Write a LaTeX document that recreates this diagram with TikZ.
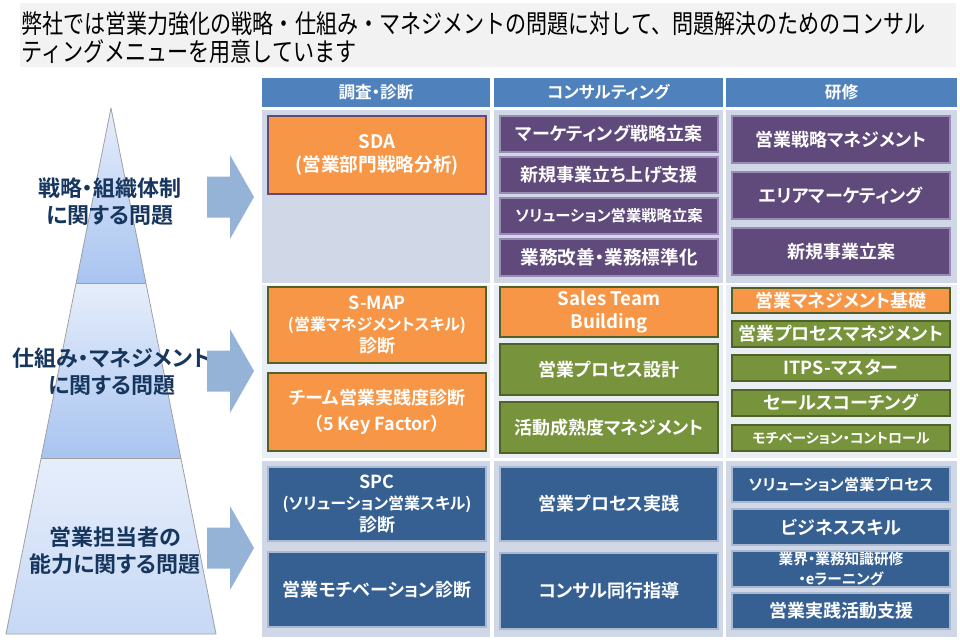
\documentclass[tikz,border=0pt]{standalone}
\usepackage{fontspec}
\setmainfont{Noto Sans CJK JP}[BoldFont={Noto Sans CJK JP Bold}, RawFeature=+palt]
\newfontfamily\titlefont{Noto Sans CJK JP}[FakeStretch=0.81]
\definecolor{cHdr}{HTML}{4F81BD}
\definecolor{cBgA}{HTML}{D0D8E8}
\definecolor{cBgB}{HTML}{E9EDF4}
\definecolor{cOrg}{HTML}{F79646}
\definecolor{cPur}{HTML}{604A7B}
\definecolor{cPurB}{HTML}{9A8BB5}
\definecolor{cGrn}{HTML}{77933C}
\definecolor{cGrnB}{HTML}{4F6228}
\definecolor{cDbl}{HTML}{366092}
\definecolor{cDblB}{HTML}{A9B9D2}
\definecolor{cPyrTxt}{HTML}{17365D}
\definecolor{cArr}{HTML}{95B3D7}
\definecolor{cTitleBg}{HTML}{F2F2F2}
\definecolor{cPyrTop}{HTML}{E6EEFB}
\definecolor{cPyrBot}{HTML}{A8C4F0}
\definecolor{cPyrBot3}{HTML}{C6D8F5}
\definecolor{cPyrLine}{HTML}{A0A0A0}
\tikzset{
  fs/.code={\pgfmathsetmacro\myfsb{#1*1.2}%
    \edef\myfstmp{\noexpand\tikzset{font=\noexpand\bfseries\noexpand\fontsize{#1}{\myfsb}\noexpand\selectfont}}\myfstmp},
  bx/.style={inner sep=0pt, text=white, align=center, line width=0.8pt, fs=13.5},
  orgbox/.style={bx, fill=cOrg, draw=cGrnB},
  purbox/.style={bx, fill=cPur, draw=cPurB},
  grnbox/.style={bx, fill=cGrn, draw=cGrnB},
  dblbox/.style={bx, fill=cDbl, draw=cDblB},
  hdrbox/.style={inner sep=0pt, fill=cHdr, text=white, fs=12.5},
  bgA/.style={inner sep=0pt, fill=cBgA},
  bgB/.style={inner sep=0pt, fill=cBgB},
  pyrtxt/.style={text=cPyrTxt, align=center, inner sep=0pt, font=\bfseries\fontsize{16.5}{20.5}\selectfont},
  blockarrow/.style={fill=cArr},
}
\newcommand{\smallline}[2]{{\fontsize{#1}{16}\selectfont #2}}
% box: style, name, x1, y1, x2, y2, text (pixel coordinates)
\newcommand{\bxn}[7]{%
  \pgfmathsetmacro\bcx{(#3+#5)/2}%
  \pgfmathsetmacro\bcy{(#4+#6)/2}%
  \pgfmathsetmacro\bw{(#5-#3)*0.75}%
  \pgfmathsetmacro\bh{(#6-#4)*0.75}%
  \node[#1, minimum width=\bw pt, minimum height=\bh pt] (#2) at (\bcx,\bcy) {#7};}
\begin{document}
\begin{tikzpicture}[x=0.75pt, y=-0.75pt]
\useasboundingbox (0,0) rectangle (960,642);
\fill[white] (0,0) rectangle (960,642);
% title
\fill[cTitleBg] (20,3) rectangle (956,67);
\node[anchor=west, inner sep=0pt, align=left, font=\titlefont\fontsize{19.5}{21}\selectfont] (title) at (21,38)
  {弊社では営業力強化の戦略・仕組み・マネジメントの問題に対して、問題解決のためのコンサル\\ティングメニューを用意しています};
% pyramid
\coordinate (apex) at (111,108);
\coordinate (bl) at (6,634);
\coordinate (br) at (216,634);
\coordinate (l1) at (76.1,283);
\coordinate (r1) at (145.9,283);
\coordinate (l2) at (41.1,458);
\coordinate (r2) at (180.9,458);
\shade[top color=cPyrTop, bottom color=cPyrBot] (apex) -- (r1) -- (l1) -- cycle;
\shade[top color=cPyrTop, bottom color=cPyrBot] (l1) -- (r1) -- (r2) -- (l2) -- cycle;
\shade[top color=cPyrTop, bottom color=cPyrBot3] (l2) -- (r2) -- (br) -- (bl) -- cycle;
\draw[cPyrLine, line width=0.6pt, line join=round] (apex) -- (br) -- (bl) -- cycle;
\draw[cPyrLine, line width=0.6pt] (l1) -- (r1) (l2) -- (r2);
\node[pyrtxt] (p1) at (110,202) {戦略・組織体制\\に関する問題};
\node[pyrtxt] (p2) at (112,372) {仕組み・マネジメント\\に関する問題};
\node[pyrtxt] (p3) at (115,551) {営業担当者の\\能力に関する問題};
% arrows
\foreach \yc in {197, 371, 548}{
  \fill[blockarrow] (207,\yc-20.5) -- (230,\yc-20.5) -- (230,\yc-42) -- (254,\yc) -- (230,\yc+42) -- (230,\yc+20.5) -- (207,\yc+20.5) -- cycle;
}
% headers
\bxn{hdrbox}{h1}{262}{78}{490}{107}{調査・診断}
\bxn{hdrbox}{h2}{494}{78}{723}{107}{コンサルティング}
\bxn{hdrbox}{h3}{726}{78}{957}{107}{研修}
% backgrounds
\bxn{bgA}{g11}{262}{110}{490}{283}{}
\bxn{bgA}{g12}{494}{110}{723}{283}{}
\bxn{bgA}{g13}{726}{110}{957}{283}{}
\bxn{bgB}{g21}{262}{285}{490}{458}{}
\bxn{bgB}{g22}{494}{285}{723}{458}{}
\bxn{bgB}{g23}{726}{285}{957}{458}{}
\bxn{bgA}{g31}{262}{461}{490}{637}{}
\bxn{bgA}{g32}{494}{461}{723}{637}{}
\bxn{bgA}{g33}{726}{461}{957}{637}{}
% row 1
\bxn{orgbox, draw=cPur, fs=14}{sda}{268}{116}{486}{194}{SDA\\(営業部門戦略分析)}
\bxn{purbox}{c11}{500}{116}{718}{152}{マーケティング戦略立案}
\bxn{purbox}{c12}{500}{157}{718}{193}{新規事業立ち上げ支援}
\bxn{purbox, fs=11.5}{c13}{500}{198}{718}{234}{ソリューション営業戦略立案}
\bxn{purbox, fs=14}{c14}{500}{239}{718}{276}{業務改善・業務標準化}
\bxn{purbox}{t11}{732}{116}{950}{163}{営業戦略マネジメント}
\bxn{purbox}{t12}{732}{172}{950}{219}{エリアマーケティング}
\bxn{purbox}{t13}{732}{228}{950}{275}{新規事業立案}
% row 2
\bxn{orgbox, font=\bfseries\fontsize{13.5}{16}\selectfont}{smap}{268}{287}{486}{363}{S-MAP\\\smallline{12}{(営業マネジメントスキル)}\\診断}
\bxn{orgbox, font=\bfseries\fontsize{13.5}{20}\selectfont}{team}{268}{373}{486}{451}{チーム営業実践度診断\\（5 Key Factor）}
\bxn{orgbox, font=\bfseries\fontsize{14}{17}\selectfont}{stb}{500}{287}{718}{337}{Sales Team\\Building}
\bxn{grnbox}{c22}{500}{344}{718}{395}{営業プロセス設計}
\bxn{grnbox}{c23}{500}{402}{718}{453}{活動成熟度マネジメント}
\bxn{orgbox}{t21}{732}{288}{950}{313}{営業マネジメント基礎}
\bxn{grnbox}{t22}{732}{321}{950}{347}{営業プロセスマネジメント}
\bxn{grnbox}{t23}{732}{355}{950}{381}{ITPS-マスター}
\bxn{grnbox}{t24}{732}{390}{950}{416}{セールスコーチング}
\bxn{grnbox, fs=10.5}{t25}{732}{425}{950}{451}{モチベーション・コントロール}
% row 3
\bxn{dblbox, font=\bfseries\fontsize{13.5}{16}\selectfont}{spc}{268}{467}{486}{541}{SPC\\\smallline{12}{(ソリューション営業スキル)}\\診断}
\bxn{dblbox}{mot}{268}{552}{486}{627}{営業モチベーション診断}
\bxn{dblbox}{c31}{500}{467}{718}{541}{営業プロセス実践}
\bxn{dblbox}{c32}{500}{553}{718}{629}{コンサル同行指導}
\bxn{dblbox, fs=11.5}{t31}{732}{467}{950}{502}{ソリューション営業プロセス}
\bxn{dblbox}{t32}{732}{509}{950}{545}{ビジネススキル}
\bxn{dblbox, font=\bfseries\fontsize{11}{15}\selectfont}{t33}{732}{551}{950}{587}{業界・業務知識研修\\・eラーニング}
\bxn{dblbox}{t34}{732}{593}{950}{629}{営業実践活動支援}
\end{tikzpicture}
\end{document}
